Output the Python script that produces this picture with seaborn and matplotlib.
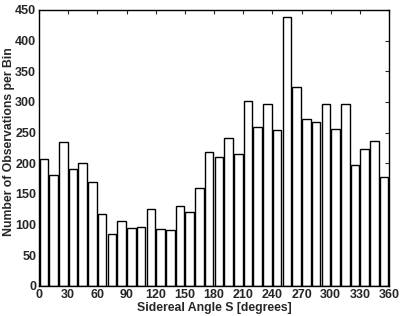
import matplotlib
matplotlib.use("Agg")
import matplotlib.pyplot as plt
import seaborn as sns
import numpy as np

bin_centers = [5, 15, 25, 35, 45, 55, 65, 75, 85, 95, 105, 115, 125, 135, 145, 155, 165, 175,
               185, 195, 205, 215, 225, 235, 245, 255, 265, 275, 285, 295, 305, 315, 325, 335, 345, 355]
counts = [207, 181, 235, 190, 201, 170, 117, 84, 106, 94, 97, 126, 93, 92, 131, 120, 160, 218,
          211, 241, 216, 301, 260, 297, 255, 438, 325, 273, 268, 296, 256, 297, 198, 223, 237, 177]
x_ticks = list(range(0, 361, 30))
y_ticks = list(range(0, 451, 50))

sns.set_style("white")
plt.rcParams['font.family'] = ['Liberation Sans', 'DejaVu Sans']
plt.rcParams['font.weight'] = 'bold'

fig = plt.figure(figsize=(4.03, 3.16), dpi=100)
ax = fig.add_axes([39/403, (316-286)/316, 350/403, 276/316])

sns.barplot(x=bin_centers, y=counts, native_scale=True, width=0.88,
            color="white", edgecolor="black", linewidth=1.0, ax=ax)

ax.set_xlim(0, 360)
ax.set_ylim(0, 450)
ax.set_xticks(x_ticks)
ax.set_yticks(y_ticks)
ax.set_xticklabels([str(t) for t in x_ticks], fontsize=9, fontweight='bold')
ax.set_yticklabels([str(t) for t in y_ticks], fontsize=9, fontweight='bold')
ax.tick_params(direction='in', length=3, width=0.8, top=True, right=True, pad=2)
for s in ax.spines.values():
    s.set_visible(True)
    s.set_color('black')
    s.set_linewidth(1.0)
ax.set_xlabel("Sidereal Angle S [degrees]", fontsize=8.8, fontweight='bold', labelpad=1)
ax.set_ylabel("Number of Observations per Bin", fontsize=8.8, fontweight='bold')
ax.yaxis.set_label_coords(-0.068, 0.524)

fig.savefig("out.png", dpi=100)
